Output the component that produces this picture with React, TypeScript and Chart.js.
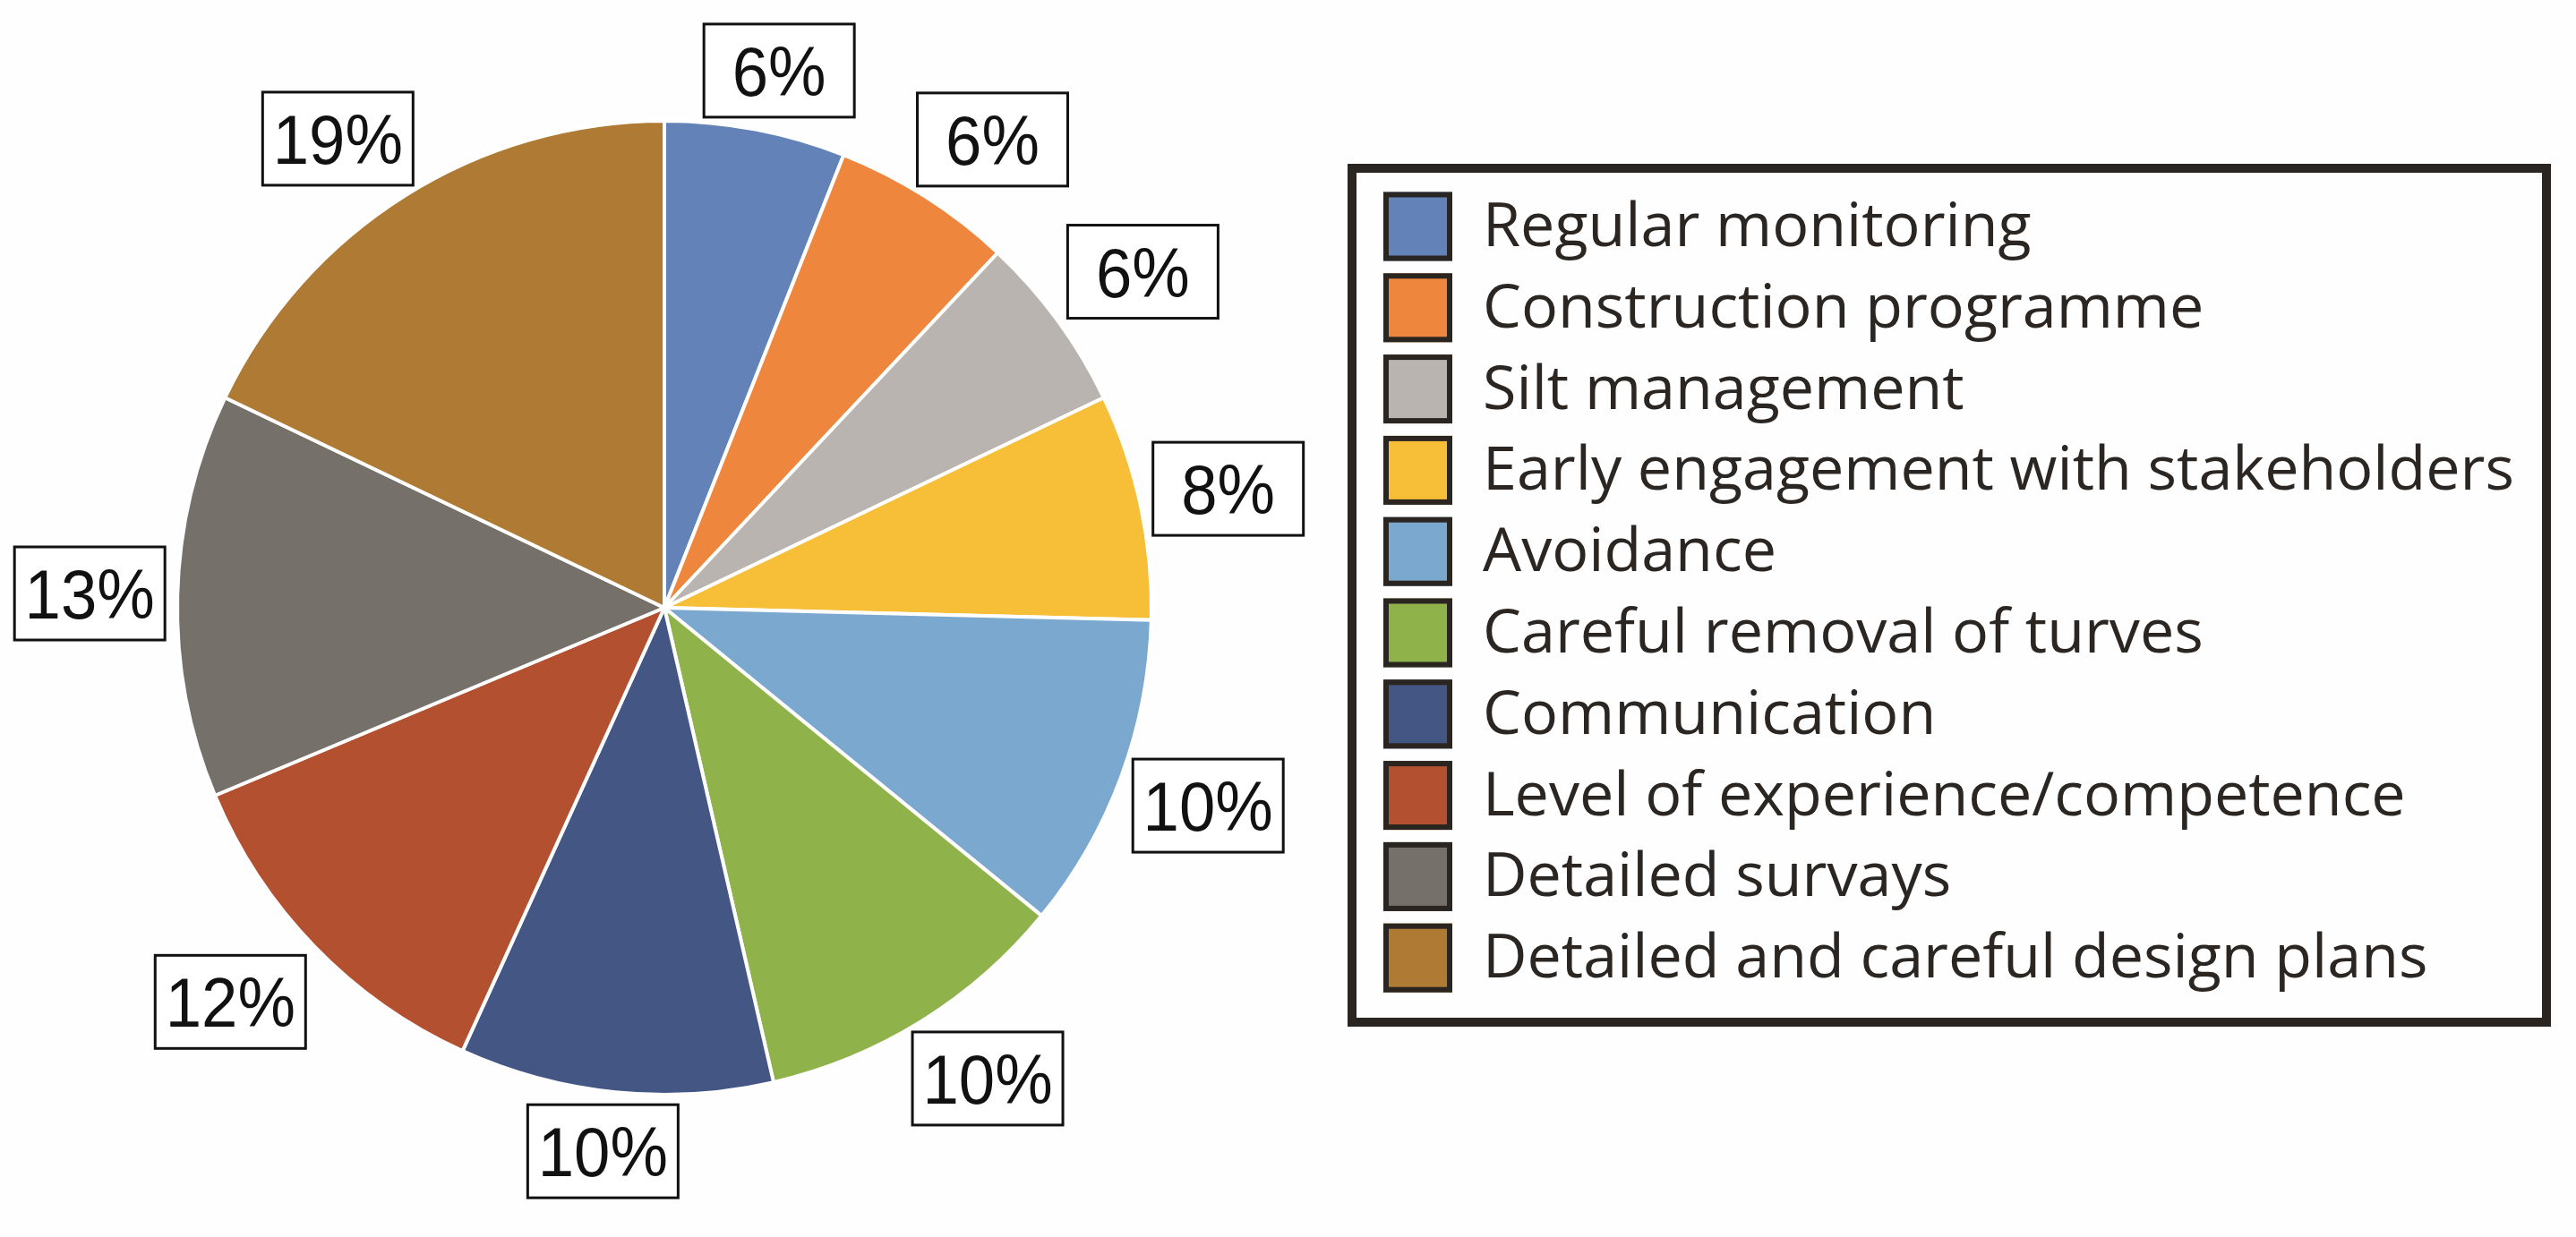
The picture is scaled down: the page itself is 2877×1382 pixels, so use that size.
import { useEffect, useRef } from "react";
import { Chart, registerables } from "chart.js";

Chart.register(...registerables);

const categories = [
  "Regular monitoring",
  "Construction programme",
  "Silt management",
  "Early engagement with stakeholders",
  "Avoidance",
  "Careful removal of turves",
  "Communication",
  "Level of experience/competence",
  "Detailed survays",
  "Detailed and careful design plans",
];
const shares = [6.0, 6.0, 5.9, 7.5, 10.5, 10.5, 10.4, 11.9, 13.4, 17.9];
const percentLabels = ["6%", "6%", "6%", "8%", "10%", "10%", "10%", "12%", "13%", "19%"];
const sliceColors = [
  "#6383B8",
  "#EE863E",
  "#BAB4B0",
  "#F7BE38",
  "#7BA8CE",
  "#8FB24A",
  "#445684",
  "#B2502F",
  "#76706B",
  "#AE7A34",
];

const W = 2877;
const H = 1382;

const clamp = (v: number) => Math.max(-1, Math.min(1, v));

const labelPlugin = {
  id: "pctLabels",
  afterDraw(chart: any) {
    const ctx = chart.ctx as CanvasRenderingContext2D;
    const meta = chart.getDatasetMeta(0);
    const hw = 84;
    const hh = 52;
    const k = 1.5;
    meta.data.forEach((arc: any, i: number) => {
      const p = arc.getProps(["x", "y", "startAngle", "endAngle", "outerRadius"], true);
      const mid = (p.startAngle + p.endAngle) / 2;
      const c = Math.cos(mid);
      const s = Math.sin(mid);
      const da = p.outerRadius + 14;
      const cx = p.x + da * c + hw * clamp(k * c);
      const cy = p.y + da * s + hh * clamp(k * s);
      ctx.save();
      ctx.fillStyle = "#ffffff";
      ctx.fillRect(cx - hw, cy - hh, hw * 2, hh * 2);
      ctx.lineWidth = 3;
      ctx.strokeStyle = "#111111";
      ctx.strokeRect(cx - hw, cy - hh, hw * 2, hh * 2);
      ctx.fillStyle = "#111111";
      ctx.font = '78px "Liberation Sans", Arial, sans-serif';
      ctx.textAlign = "center";
      ctx.textBaseline = "alphabetic";
      ctx.translate(cx, cy + 28);
      ctx.scale(0.93, 1);
      ctx.fillText(percentLabels[i], 0, 0);
      ctx.restore();
    });
  },
};

const legendPlugin = {
  id: "boxLegend",
  afterDraw(chart: any) {
    const ctx = chart.ctx as CanvasRenderingContext2D;
    const left = 1505;
    const top = 183;
    const right = 2849;
    const bottom = 1147;
    const bw = 10;
    ctx.save();
    ctx.lineWidth = bw;
    ctx.strokeStyle = "#2A2520";
    ctx.strokeRect(left + bw / 2, top + bw / 2, right - left - bw, bottom - top - bw);

    ctx.font = '67px "Open Sans", sans-serif';
    ctx.textBaseline = "alphabetic";
    ctx.textAlign = "left";
    const widest = ctx.measureText("Early engagement with stakeholders").width;
    const sx = 1152 / widest;

    const rowStart = 253;
    const pitch = 90.8;
    const sw = 77;
    const swX = 1545;
    categories.forEach((name, i) => {
      const cy = rowStart + i * pitch;
      ctx.fillStyle = sliceColors[i];
      ctx.fillRect(swX, cy - sw / 2, sw, sw);
      ctx.lineWidth = 6;
      ctx.strokeStyle = "#2A2520";
      ctx.strokeRect(swX + 3, cy - sw / 2 + 3, sw - 6, sw - 6);
      ctx.save();
      ctx.fillStyle = "#2B2622";
      ctx.translate(1656, cy + 22);
      ctx.scale(sx, 1);
      ctx.fillText(name, 0, 0);
      ctx.restore();
    });
    ctx.restore();
  },
};

export default function App() {
  const ref = useRef<HTMLCanvasElement>(null);
  useEffect(() => {
    const chart = new Chart(ref.current as HTMLCanvasElement, {
      type: "pie",
      data: {
        labels: categories,
        datasets: [
          {
            data: shares,
            backgroundColor: sliceColors,
            borderColor: "#ffffff",
            borderWidth: 4,
          },
        ],
      },
      options: {
        responsive: false,
        animation: false,
        devicePixelRatio: 1,
        layout: { padding: { left: 196, top: 133, right: 1589, bottom: 157 } },
        plugins: {
          legend: { display: false },
          tooltip: { enabled: false },
        },
      },
      plugins: [labelPlugin, legendPlugin],
    } as any);
    return () => chart.destroy();
  }, []);
  return (
    <div
      style={{
        position: "fixed",
        left: 0,
        top: 0,
        width: W,
        height: H,
        background: "#fefefe",
      }}
    >
      <canvas ref={ref} width={W} height={H} style={{ display: "block" }} />
    </div>
  );
}
